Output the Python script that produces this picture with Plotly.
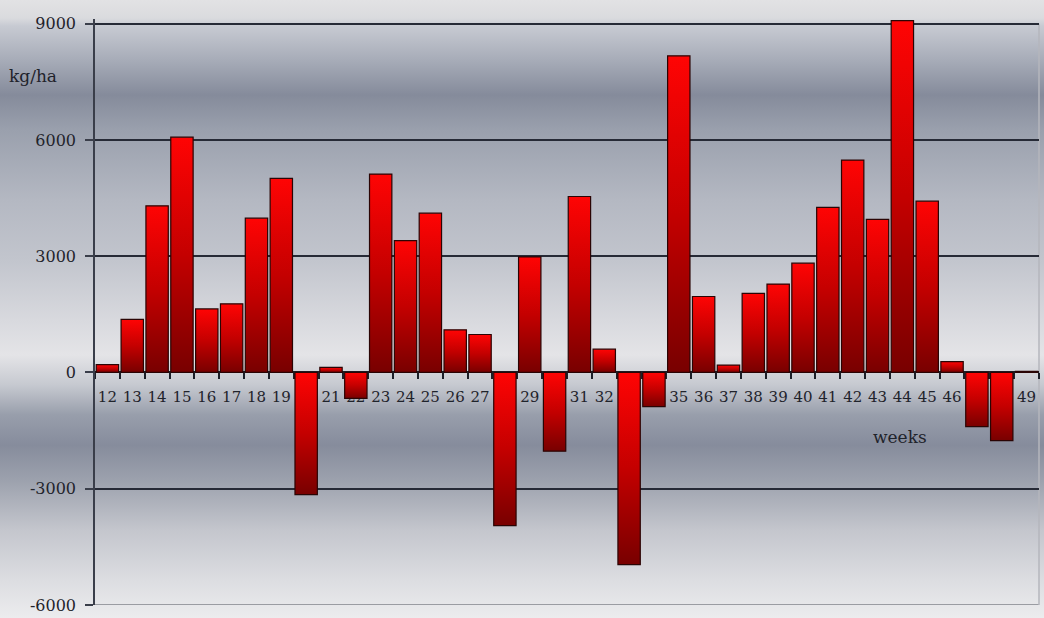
import base64
import plotly.graph_objects as go

# Weekly balance per week number (kg/ha)
weeks = [12, 13, 14, 15, 16, 17, 18, 19, 20, 21, 22, 23, 24, 25, 26, 27, 28, 29, 30,
         31, 32, 33, 34, 35, 36, 37, 38, 39, 40, 41, 42, 43, 44, 45, 46, 47, 48, 49]
values = [200, 1370, 4300, 6070, 1640, 1770, 3980, 5010, -3150, 130, -670, 5120, 3400,
          4110, 1100, 980, -3950, 2980, -2030, 4540, 600, -4960, -880, 8170, 1960, 190,
          2040, 2280, 2820, 4260, 5480, 3950, 9080, 4420, 280, -1400, -1760, 30]
y_tickvals = [-6000, -3000, 0, 3000, 6000, 9000]
y_ticktext = ["-6000", "-3000", "0", "3000", "6000", "9000"]
x_ticktext = [str(w) for w in weeks]

W, H = 1044, 618
ML, MR, MT, MB = 95, 5, 19, 13
PW, PH = W - ML - MR, H - MT - MB
Y_RANGE = [-6000, 9120]
X_RANGE = [weeks[0] - 0.5, weeks[-1] + 0.5]
HALF = 0.45
FONT = "DejaVu Serif"
TEXT = "#1f232b"

# Silver banded background for the whole chart area
stops = [
    (0, "#e2e2e4"), (18, "#dadbde"), (26, "#c7cad2"), (60, "#a7acb8"),
    (95, "#858b9b"), (130, "#9aa0ad"), (200, "#b4b8c2"), (260, "#c2c5cd"),
    (320, "#d8d9de"), (355, "#e4e4e7"), (385, "#c6c9d0"), (415, "#989eab"),
    (445, "#868c9c"), (480, "#9ca1ad"), (530, "#c4c6cd"), (580, "#dcdde1"),
    (618, "#ececee"),
]
stop_xml = "".join(
    f'<stop offset="{y / H:.4f}" stop-color="{c}"/>' for y, c in stops
)
svg = (
    f'<svg xmlns="http://www.w3.org/2000/svg" width="{W}" height="{H}" '
    f'viewBox="0 0 {W} {H}" preserveAspectRatio="none">'
    f'<defs><linearGradient id="g" x1="0" y1="0" x2="0" y2="1">{stop_xml}'
    f'</linearGradient></defs><rect width="{W}" height="{H}" fill="url(#g)"/></svg>'
)
bg_uri = "data:image/svg+xml;base64," + base64.b64encode(svg.encode()).decode()

fig = go.Figure()

# One filled polygon per week so every bar gets its own red-to-maroon gradient
for w, v in zip(weeks, values):
    fig.add_trace(go.Scatter(
        x=[w - HALF, w - HALF, w + HALF, w + HALF, w - HALF],
        y=[0, v, v, 0, 0],
        mode="lines",
        fill="toself",
        fillgradient=dict(
            type="vertical",
            colorscale=[[0, "#780000"], [0.5, "#c40000"], [1, "#ff0404"]],
        ),
        line=dict(color="#2a0404", width=1.2),
        showlegend=False,
        hovertemplate=f"week {w}: {v} kg/ha<extra></extra>",
    ))

fig.update_layout(
    width=W, height=H,
    margin=dict(l=ML, r=MR, t=MT, b=MB, autoexpand=False),
    paper_bgcolor="#e6e6e8",
    plot_bgcolor="rgba(0,0,0,0)",
    font=dict(family=FONT, color=TEXT),
    images=[dict(
        source=bg_uri, xref="paper", yref="paper",
        x=-ML / PW, y=1 + MT / PH, sizex=W / PW, sizey=H / PH,
        xanchor="left", yanchor="top", sizing="stretch", layer="below",
    )],
    xaxis=dict(
        range=X_RANGE, anchor="free",
        position=(0 - Y_RANGE[0]) / (Y_RANGE[1] - Y_RANGE[0]),
        tickmode="array", tickvals=weeks, ticktext=x_ticktext,
        ticks="outside", ticklen=6, tickcolor="rgba(0,0,0,0)",
        ticklabelstandoff=5,
        tickfont=dict(family=FONT, size=15, color=TEXT),
        minor=dict(ticks="outside", ticklen=6, tickwidth=1.5, tickcolor="#1c1f28",
                   tick0=X_RANGE[0], dtick=1, showgrid=False),
        showline=True, linecolor="#1c1f28", linewidth=1.5,
        showgrid=False, zeroline=False, layer="below traces",
        fixedrange=True,
    ),
    yaxis=dict(
        range=Y_RANGE,
        tickmode="array", tickvals=y_tickvals, ticktext=y_ticktext,
        ticks="outside", ticklen=8, tickwidth=1.5, tickcolor="#3a3e4a",
        ticklabelstandoff=6,
        tickfont=dict(family=FONT, size=16, color=TEXT),
        showline=True, linecolor="#3a3e4a", linewidth=1.5,
        showgrid=True, gridcolor="#262a36", gridwidth=1.5,
        zeroline=False, fixedrange=True,
    ),
    shapes=[
        dict(type="line", xref="paper", yref="y", x0=0, x1=1, y0=9000, y1=9000,
             line=dict(color="#6e727c", width=1.5), layer="between"),
        dict(type="line", xref="paper", yref="y", x0=0, x1=1, y0=-6000, y1=-6000,
             line=dict(color="#9a9ca2", width=2), layer="between"),
        dict(type="line", xref="paper", yref="y", x0=1, x1=1, y0=-6000, y1=9000,
             line=dict(color="#b4b6bc", width=1.5), layer="between"),
    ],
    annotations=[
        dict(text="kg/ha", xref="paper", yref="paper",
             x=(7 - ML) / PW, y=(MT + PH - 76) / PH,
             xanchor="left", yanchor="middle", showarrow=False,
             font=dict(family=FONT, size=17, color=TEXT)),
        dict(text="weeks", xref="x", yref="y", x=43.9, y=-1660,
             xanchor="center", yanchor="middle", showarrow=False,
             font=dict(family=FONT, size=17, color=TEXT)),
    ],
)

fig.write_html("out.html")
